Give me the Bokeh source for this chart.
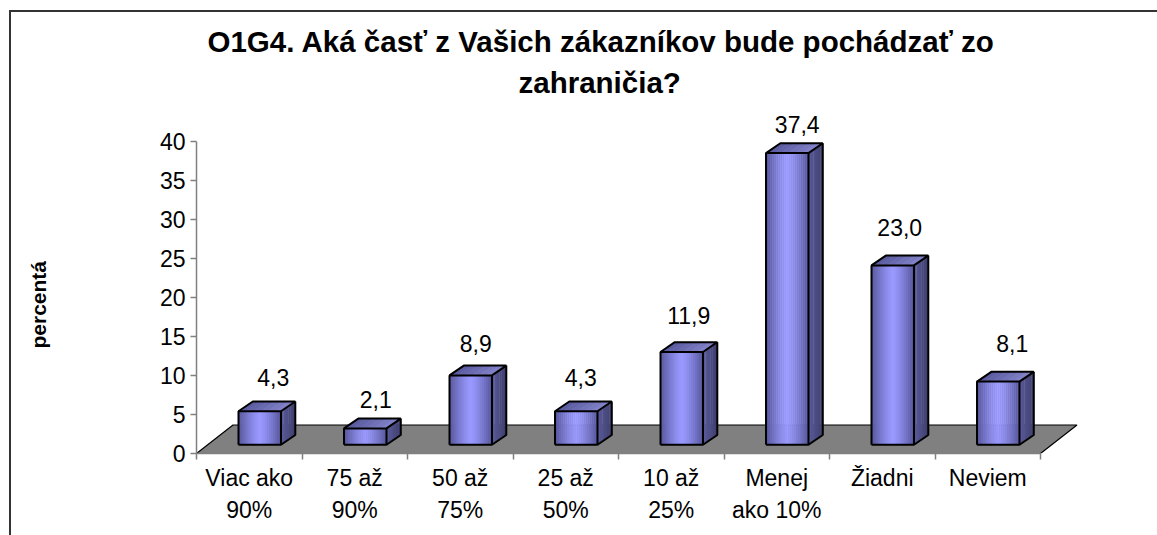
from bokeh.embed import file_html
from bokeh.models import FixedTicker, Range1d, ColumnDataSource, Title
from bokeh.plotting import figure
from bokeh.core.properties import value
from bokeh.resources import INLINE

# ---- data ----
categories = ["Viac ako\n90%", "75 až\n90%", "50 až\n75%", "25 až\n50%", "10 až\n25%",
              "Menej\nako 10%", "Žiadni", "Neviem"]
values = [4.3, 2.1, 8.9, 4.3, 11.9, 37.4, 23.0, 8.1]
value_labels = ["4,3", "2,1", "8,9", "4,3", "11,9", "37,4", "23,0", "8,1"]
y_ticks = [0, 5, 10, 15, 20, 25, 30, 35, 40]
title_lines = ["O1G4. Aká časť z Vašich zákazníkov bude pochádzať zo", "zahraničia?"]
y_title = "percentá"

# ---- style / layout ----
FONT = "Liberation Sans"
W, H = 1157, 535
FRAME_L, FRAME_R, FRAME_T, FRAME_B = 196, 1085, 101, 453  # in figure pixels
PX_X, PX_Y = 105.5, 7.8  # pixels per category and per percent
FLOOR_DX, FLOOR_DY = 36.5 / PX_X, 28.5 / PX_Y
BAR_W = 42.5 / PX_X
BAR_X0 = (238 - 196) / PX_X
BAR_BASE = 8.7 / PX_Y
SIDE_DX, SIDE_DY = 14.3 / PX_X, 9.8 / PX_Y
LABEL_DX = [13.5, 10.5, 5, 4.5, 7, 10, 7, 14]
LABEL_DY = [34, 29, 32, 34, 36, 29, 38, 38]
TITLE_OFFSETS = [11, 322]
AXIS = "#808080"
BORDER = "#333333"
N_STRIPS = 21


def mix(a, b, t):
    return "#%02x%02x%02x" % tuple(round(x + (y - x) * t) for x, y in zip(a, b))


p = figure(width=W, height=H, output_backend="svg", toolbar_location=None,
           x_range=Range1d(0, (FRAME_R - FRAME_L) / PX_X),
           y_range=Range1d(0, (FRAME_B - FRAME_T) / PX_Y),
           min_border_left=FRAME_L, min_border_right=W - FRAME_R,
           min_border_top=FRAME_T, min_border_bottom=H - FRAME_B,
           outline_line_color=None, background_fill_color="white",
           border_fill_color=None, title=None)
p.grid.visible = False

# outer border of the chart area: top and left lines only
p.styles = {
    "background": (
        f"linear-gradient({BORDER},{BORDER}) 10px 10px / 100% 2px no-repeat, "
        f"linear-gradient({BORDER},{BORDER}) 9px 10px / 2px 100% no-repeat, white"
    )
}

# left axis
ya = p.yaxis[0]
ya.ticker = FixedTicker(ticks=y_ticks)
ya.bounds = (0, 40)
ya.axis_line_color = AXIS
ya.axis_line_width = 1.5
ya.major_tick_line_color = AXIS
ya.major_tick_line_width = 1.5
ya.major_tick_in = 0
ya.major_tick_out = 6
ya.minor_tick_line_color = None
ya.major_label_standoff = 5
ya.major_label_text_font = FONT
ya.major_label_text_font_size = "23px"
ya.major_label_text_color = "black"

# bottom axis: separators as minor ticks, category names on the major ticks
xa = p.xaxis[0]
xa.ticker = FixedTicker(ticks=[i + 0.5 for i in range(len(categories))],
                        minor_ticks=list(range(len(categories) + 1)))
xa.major_label_overrides = {i + 0.5: c for i, c in enumerate(categories)}
xa.bounds = (0, len(categories))
xa.axis_line_color = AXIS
xa.axis_line_width = 1.5
xa.major_tick_line_color = None
xa.major_tick_in = 0
xa.major_tick_out = 6
xa.minor_tick_line_color = AXIS
xa.minor_tick_line_width = 1.5
xa.minor_tick_in = 0
xa.minor_tick_out = 6
xa.major_label_standoff = 5
xa.major_label_text_font = FONT
xa.major_label_text_font_size = "23px"
xa.major_label_text_color = "black"
xa.major_label_text_line_height = 1.25

# floor
n = len(categories)
p.patch([0, n, n + FLOOR_DX, FLOOR_DX], [0, 0, FLOOR_DY, FLOOR_DY],
        fill_color="#808080", line_color="black", line_width=1.2)

# bars
for i, v in enumerate(values):
    x0 = i + BAR_X0
    x1 = x0 + BAR_W
    b = BAR_BASE
    t = b + v
    # side face (gradient)
    side_n = 6
    for k in range(side_n):
        f0, f1 = k / side_n, (k + 1.15) / side_n if k < side_n - 1 else 1
        p.patch([x1 + SIDE_DX * f0, x1 + SIDE_DX * f1, x1 + SIDE_DX * f1, x1 + SIDE_DX * f0],
                [b + SIDE_DY * f0, b + SIDE_DY * f1, t + SIDE_DY * f1, t + SIDE_DY * f0],
                fill_color=mix((0x58, 0x58, 0x98), (0x40, 0x40, 0x70), k / (side_n - 1)),
                line_color=None)
    # top face (gradient)
    for k in range(side_n):
        f0, f1 = k / side_n, (k + 1.15) / side_n if k < side_n - 1 else 1
        xa0, xa1 = x0 + BAR_W * f0, x0 + BAR_W * f1
        p.patch([xa0, xa1, xa1 + SIDE_DX, xa0 + SIDE_DX],
                [t, t, t + SIDE_DY, t + SIDE_DY],
                fill_color=mix((0x5c, 0x5c, 0xa0), (0x80, 0x80, 0xc8), k / (side_n - 1)),
                line_color=None)
    # front face: horizontal gradient built from thin strips
    lefts = [x0 + BAR_W * k / N_STRIPS for k in range(N_STRIPS)]
    rights = [x0 + BAR_W * (k + 1.2) / N_STRIPS if k < N_STRIPS - 1 else x1 for k in range(N_STRIPS)]
    cols = [mix((0x55, 0x55, 0x99), (0x99, 0x99, 0xff), 1 - abs(2 * (k + .5) / N_STRIPS - 1) ** 1.3)
            for k in range(N_STRIPS)]
    p.quad(left=lefts, right=rights, bottom=b, top=t, fill_color=cols, line_color=None)
    # edges
    p.multi_line(
        [[x0, x1, x1, x0, x0], [x0, x0 + SIDE_DX, x1 + SIDE_DX, x1], [x1 + SIDE_DX, x1 + SIDE_DX, x1]],
        [[b, b, t, t, b], [t, t + SIDE_DY, t + SIDE_DY, t], [t + SIDE_DY, b + SIDE_DY, b]],
        line_color="black", line_width=2)

# data labels
src = ColumnDataSource(dict(
    x=[i + BAR_X0 + BAR_W / 2 for i in range(n)],
    y=[BAR_BASE + v for v in values],
    t=value_labels, dx=LABEL_DX, dy=[-d for d in LABEL_DY]))
p.text(x="x", y="y", text="t", x_offset="dx", y_offset="dy", source=src,
       text_align="center", text_baseline="middle",
       text_font=value(FONT), text_font_size="23px", text_color="black")

# chart title (one Title per line; the line added last sits highest) and vertical axis title
for line, off in reversed(list(zip(title_lines, TITLE_OFFSETS))):
    p.add_layout(Title(text=line, align="left", offset=off, standoff=6, text_font=FONT,
                       text_font_size="29.5px", text_font_style="bold", text_color="black"), "above")
# a blank spacer title pushes the vertical title out to the chart's left edge
p.add_layout(Title(text=" ", standoff=82, text_font=FONT, text_font_size="21px"), "left")
p.add_layout(Title(text=y_title, align="left", offset=105, standoff=0,
                   text_font=FONT, text_font_size="21px", text_font_style="bold",
                   text_color="black"), "left")

open("out.html", "w").write(file_html(p, INLINE))
